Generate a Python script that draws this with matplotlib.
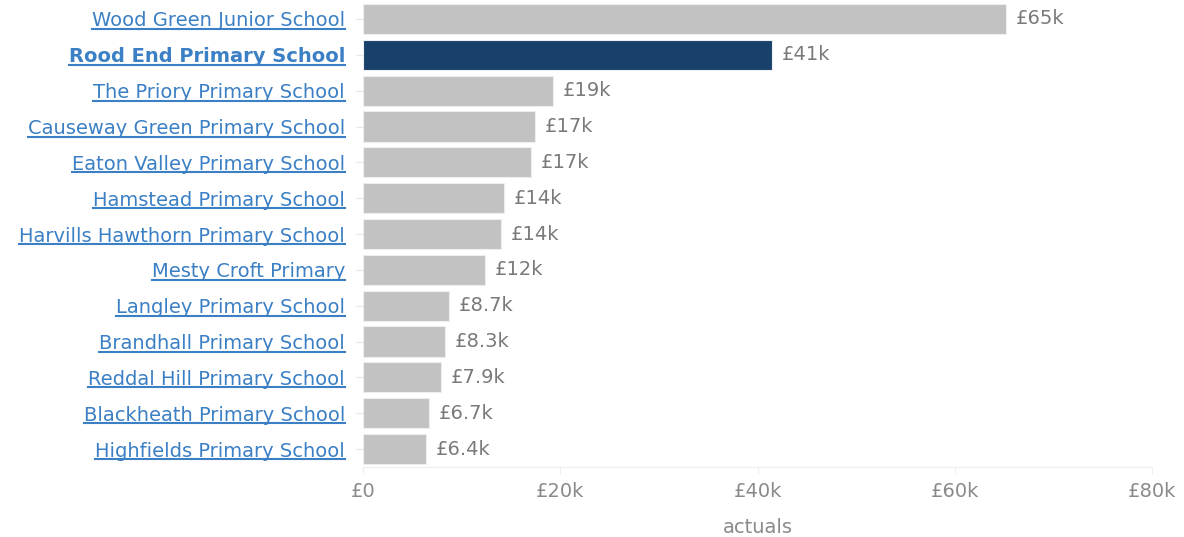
import matplotlib.pyplot as plt
from matplotlib.lines import Line2D

schools = [
    "Wood Green Junior School",
    "Rood End Primary School",
    "The Priory Primary School",
    "Causeway Green Primary School",
    "Eaton Valley Primary School",
    "Hamstead Primary School",
    "Harvills Hawthorn Primary School",
    "Mesty Croft Primary",
    "Langley Primary School",
    "Brandhall Primary School",
    "Reddal Hill Primary School",
    "Blackheath Primary School",
    "Highfields Primary School",
]
actuals = [65200, 41500, 19300, 17400, 17000, 14300, 14000, 12400, 8700, 8300, 7900, 6700, 6400]
value_labels = ["£65k", "£41k", "£19k", "£17k", "£17k", "£14k", "£14k", "£12k",
                "£8.7k", "£8.3k", "£7.9k", "£6.7k", "£6.4k"]
highlight = "Rood End Primary School"
x_ticks = [0, 20000, 40000, 60000, 80000]
x_tick_labels = ["£0", "£20k", "£40k", "£60k", "£80k"]

plt.rcParams["font.family"] = ["DejaVu Sans"]
FS = 14

fig = plt.figure(figsize=(11.84, 5.37), dpi=100)
ax = fig.add_axes([0.3066, 0.1304, 0.6664, 0.8676])

ypos = list(range(len(schools)))
colors = ["#17416b" if s == highlight else "#c2c2c2" for s in schools]
ax.barh(ypos, actuals, height=0.84, color=colors, edgecolor="#eeeeee", linewidth=0.8)

for y, v, lab in zip(ypos, actuals, value_labels):
    ax.text(v + 1000, y, lab, va="center", ha="left", fontsize=FS, color="#7a7a7a")

ax.set_ylim(len(schools) - 0.5, -0.5)
ax.set_xlim(0, 80000)
ax.set_yticks(ypos)
ax.set_yticklabels(schools, fontsize=FS, color="#3b7fc4")
for lbl in ax.get_yticklabels():
    if lbl.get_text() == highlight:
        lbl.set_fontweight("bold")
ax.set_xticks(x_ticks)
ax.set_xticklabels(x_tick_labels, fontsize=FS, color="#8a8a8a")
ax.set_xlabel("actuals", fontsize=FS, color="#8a8a8a", labelpad=12)

for side in ["top", "right", "left"]:
    ax.spines[side].set_visible(False)
ax.spines["bottom"].set_color("#eeeeee")
ax.tick_params(axis="y", length=5, color="#e6e6e6", pad=8)
ax.tick_params(axis="x", length=5, color="#eeeeee", pad=6)

# underline the school names like links, just under the baseline
fig.canvas.draw()
renderer = fig.canvas.get_renderer()
for lbl in ax.get_yticklabels():
    bb = lbl.get_window_extent(renderer)
    _, _, descent = renderer.get_text_width_height_descent(
        lbl.get_text(), lbl.get_fontproperties(), ismath=False)
    x0, x1 = bb.x0 / fig.bbox.width, bb.x1 / fig.bbox.width
    yy = (bb.y0 + descent - 2.5) / fig.bbox.height
    fig.add_artist(Line2D([x0, x1], [yy, yy], color="#3b7fc4", linewidth=1.5,
                          transform=fig.transFigure))

fig.savefig("out.png", dpi=100)
